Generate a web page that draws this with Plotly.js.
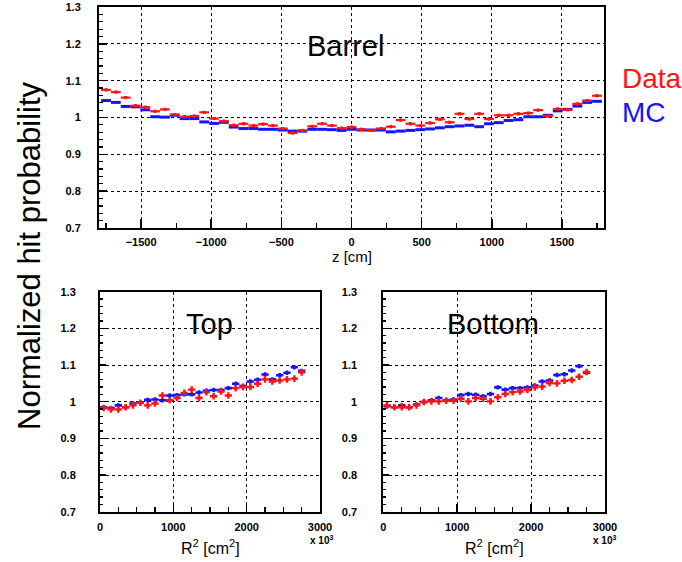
<!DOCTYPE html>
<html>
<head>
<meta charset="utf-8">
<script src="https://cdn.plot.ly/plotly-3.0.1.min.js"></script>
<style>html,body{margin:0;padding:0;background:#fff;}#chart{width:682px;height:562px;}</style>
</head>
<body>
<div id="chart"></div>
<script>
// ---------- DATA ----------
// Barrel: bin centres in z [cm]
const zCenters = [-1750,-1680,-1610,-1540,-1470,-1400,-1330,-1260,-1190,-1120,-1050,-980,-910,-840,-770,-700,-630,-560,-490,-420,-350,-280,-210,-140,-70,0,70,140,210,280,350,420,490,560,630,700,770,840,910,980,1050,1120,1190,1260,1330,1400,1470,1540,1610,1680,1750];
const barrelData = [1.075,1.069,1.054,1.032,1.028,1.017,1.022,1.008,1.002,1.004,1.014,0.997,0.990,0.979,0.983,0.978,0.982,0.978,0.970,0.958,0.965,0.976,0.983,0.978,0.971,0.974,0.968,0.965,0.970,0.975,0.993,0.983,0.978,0.985,0.995,0.987,1.010,0.996,1.010,0.996,1.006,1.006,1.010,1.012,1.020,1.004,1.023,1.021,1.037,1.046,1.059];
const barrelMC   = [1.046,1.041,1.030,1.029,1.021,1.002,1.001,1.006,0.997,0.997,0.988,0.984,0.987,0.974,0.970,0.970,0.968,0.968,0.966,0.963,0.963,0.968,0.968,0.967,0.965,0.968,0.966,0.966,0.966,0.961,0.963,0.965,0.967,0.969,0.972,0.975,0.977,0.979,0.975,0.983,0.986,0.992,0.994,1.002,1.002,1.006,1.018,1.022,1.031,1.041,1.044];
const zBinHalfWidth = 35;
const barrelDataErr = 0.004;
const barrelMCErr = 0.002;

// Top / Bottom: bin centres in R^2 [cm^2 x 10^3]
const r2Centers = [50,150,250,350,450,550,650,750,850,950,1050,1150,1250,1350,1450,1550,1650,1750,1850,1950,2050,2150,2250,2350,2450,2550,2650,2750];
const topData   = [0.983,0.979,0.979,0.985,0.990,0.997,0.990,0.995,1.017,1.004,1.010,1.024,1.033,1.010,1.026,1.015,1.028,1.017,1.037,1.040,1.040,1.049,1.061,1.055,1.058,1.061,1.063,1.080];
const topMC     = [0.985,0.983,0.990,0.985,0.995,0.997,1.005,1.006,1.004,1.017,1.018,1.020,1.020,1.025,1.030,1.032,1.032,1.037,1.049,1.043,1.055,1.060,1.074,1.061,1.072,1.079,1.094,1.084];
const bottomData= [0.990,0.985,0.985,0.985,0.990,0.999,1.001,1.001,1.003,1.003,1.008,1.001,1.010,1.008,1.001,1.012,1.021,1.026,1.028,1.032,1.039,1.041,1.051,1.050,1.057,1.059,1.068,1.081];
const bottomMC  = [0.988,0.985,0.990,0.985,0.992,0.999,1.004,1.010,1.004,1.006,1.018,1.021,1.019,1.015,1.021,1.039,1.033,1.037,1.037,1.039,1.044,1.055,1.058,1.073,1.075,1.085,1.097,1.079];
const r2BinHalfWidth = 50;
const r2DataErr = 0.009;
const r2MCErr = 0.006;

// ---------- STYLE ----------
const RED = '#ff1414';
const BLUE = '#1414ff';
const FONT = 'Liberation Sans, Arial, Helvetica, sans-serif';

function histTrace(x, y, halfW, errY, color, thick, xa, ya, name, msize) {
  return {
    type: 'scatter', mode: 'markers', name: name, x: x, y: y,
    xaxis: xa, yaxis: ya, showlegend: false, hoverinfo: 'x+y',
    marker: {color: color, size: msize, symbol: 'square'},
    error_x: {type: 'constant', value: halfW, width: 0, thickness: thick, color: color},
    error_y: {type: 'constant', value: errY, width: 0, thickness: thick, color: color}
  };
}

const traces = [
  histTrace(zCenters, barrelMC, zBinHalfWidth, barrelMCErr, BLUE, 3, 'x', 'y', 'MC', 1),
  histTrace(zCenters, barrelData, zBinHalfWidth, barrelDataErr, RED, 2.2, 'x', 'y', 'Data', 3),
  histTrace(r2Centers, topMC, r2BinHalfWidth, r2MCErr, BLUE, 2.6, 'x2', 'y2', 'MC', 2),
  histTrace(r2Centers, topData, r2BinHalfWidth, r2DataErr, RED, 2.4, 'x2', 'y2', 'Data', 3),
  histTrace(r2Centers, bottomMC, r2BinHalfWidth, r2MCErr, BLUE, 2.6, 'x3', 'y3', 'MC', 2),
  histTrace(r2Centers, bottomData, r2BinHalfWidth, r2DataErr, RED, 2.4, 'x3', 'y3', 'Data', 3)
];

function minorCfg(len, dtick, tick0) {
  return {ticks: 'inside', ticklen: len, dtick: dtick, tick0: tick0, tickcolor: 'black', tickwidth: 1.2, showgrid: false};
}

function axis(extra) {
  return Object.assign({
    showline: true, linecolor: 'black', linewidth: 2, mirror: true,
    ticks: 'inside', tickcolor: 'black', tickwidth: 1.5,
    showgrid: true, gridcolor: '#000000', griddash: 'dot', gridwidth: 1,
    zeroline: false, fixedrange: true, layer: 'above traces',
    tickfont: {family: FONT, size: 11, color: 'black', weight: 'bold'}
  }, extra);
}

const W = 682, H = 562;
const px = v => v / W;
const py = v => 1 - v / H;

const layout = {
  width: W, height: H, autosize: false,
  margin: {l: 0, r: 0, t: 0, b: 0, pad: 0},
  paper_bgcolor: 'white', plot_bgcolor: 'white',
  showlegend: false,
  xaxis: axis({domain: [px(99), px(604)], anchor: 'y', range: [-1800, 1800], tick0: 0, dtick: 500, ticklen: 9,
               ticklabelstandoff: 3, minor: minorCfg(5, 250, 0)}),
  yaxis: axis({domain: [py(228), py(7)], anchor: 'x', range: [0.7, 1.3], tick0: 0.7, dtick: 0.1, ticklen: 8,
               ticklabelstandoff: 14, minor: minorCfg(4, 0.02, 0.7)}),
  xaxis2: axis({domain: [px(100), px(320)], anchor: 'y2', range: [0, 3000], tick0: 0, dtick: 1000, ticklen: 8,
               ticklabelstandoff: 4, minor: minorCfg(5, 250, 0)}),
  yaxis2: axis({domain: [py(511.7), py(291.7)], anchor: 'x2', range: [0.7, 1.3], tick0: 0.7, dtick: 0.1, ticklen: 6,
               ticklabelstandoff: 20, minor: minorCfg(3, 0.02, 0.7)}),
  xaxis3: axis({domain: [px(383.3), px(605)], anchor: 'y3', range: [0, 3000], tick0: 0, dtick: 1000, ticklen: 8,
               ticklabelstandoff: 4, minor: minorCfg(5, 250, 0)}),
  yaxis3: axis({domain: [py(511.7), py(291.7)], anchor: 'x3', range: [0.7, 1.3], tick0: 0.7, dtick: 0.1, ticklen: 6,
               ticklabelstandoff: 22, minor: minorCfg(3, 0.02, 0.7)}),
  annotations: [
    {text: 'Normalized hit probability', xref: 'paper', yref: 'paper', x: px(29), y: py(256), textangle: -90,
     showarrow: false, xanchor: 'center', yanchor: 'middle', font: {family: FONT, size: 31, color: 'black'}},
    {text: 'Barrel', xref: 'paper', yref: 'paper', x: px(345), y: py(46), showarrow: false,
     xanchor: 'center', yanchor: 'middle', font: {family: FONT, size: 29, color: 'black'}},
    {text: 'Top', xref: 'paper', yref: 'paper', x: px(209), y: py(324), showarrow: false,
     xanchor: 'center', yanchor: 'middle', font: {family: FONT, size: 29, color: 'black'}},
    {text: 'Bottom', xref: 'paper', yref: 'paper', x: px(493), y: py(324), showarrow: false,
     xanchor: 'center', yanchor: 'middle', font: {family: FONT, size: 29, color: 'black'}},
    {text: 'Data', xref: 'paper', yref: 'paper', x: px(620), y: py(78), showarrow: false,
     xanchor: 'left', yanchor: 'middle', font: {family: FONT, size: 28, color: RED}},
    {text: 'MC', xref: 'paper', yref: 'paper', x: px(620), y: py(112), showarrow: false,
     xanchor: 'left', yanchor: 'middle', font: {family: FONT, size: 28, color: BLUE}},
    {text: 'z [cm]', xref: 'paper', yref: 'paper', x: px(351.5), y: py(256.5), showarrow: false,
     xanchor: 'center', yanchor: 'middle', font: {family: FONT, size: 15, color: 'black'}},
    {text: 'R<sup>2</sup> [cm<sup>2</sup>]', xref: 'paper', yref: 'paper', x: px(210), y: py(547), showarrow: false,
     xanchor: 'center', yanchor: 'middle', font: {family: FONT, size: 16, color: 'black'}},
    {text: 'R<sup>2</sup> [cm<sup>2</sup>]', xref: 'paper', yref: 'paper', x: px(494), y: py(547), showarrow: false,
     xanchor: 'center', yanchor: 'middle', font: {family: FONT, size: 16, color: 'black'}},
    {text: '<b>x 10<sup>3</sup></b>', xref: 'paper', yref: 'paper', x: px(308), y: py(540), showarrow: false,
     xanchor: 'left', yanchor: 'middle', font: {family: FONT, size: 10, color: 'black'}},
    {text: '<b>x 10<sup>3</sup></b>', xref: 'paper', yref: 'paper', x: px(591), y: py(540), showarrow: false,
     xanchor: 'left', yanchor: 'middle', font: {family: FONT, size: 10, color: 'black'}}
  ]
};

Plotly.newPlot('chart', traces, layout, {staticPlot: true, displayModeBar: false});
</script>
</body>
</html>
